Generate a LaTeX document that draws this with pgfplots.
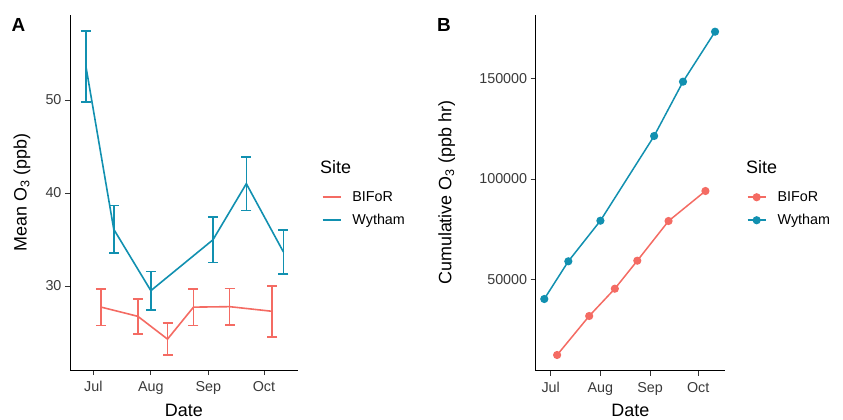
\documentclass[border=0pt]{standalone}
\usepackage{fontspec}
\setmainfont{Liberation Sans}
\usepackage{pgfplots}
\usepackage{pgfplotstable}
\pgfplotsset{compat=1.18}
\definecolor{cbif}{HTML}{F46B63}
\definecolor{cwyt}{HTML}{1190B0}
\definecolor{tickgrey}{HTML}{3A3A3A}

% Panel A: mean O3 with standard error (x = days after 1 July)
\pgfplotstableread{
x y e
4 27.74 1.97
24 26.74 1.87
40 24.29 1.71
54 27.73 1.96
73.5 27.78 1.94
96.5 27.28 2.73
}\bifA
\pgfplotstableread{
x y e
-4 53.6 3.8
11 36.1 2.54
31 29.5 2.08
64.5 34.97 2.46
82.5 41.0 2.9
102.5 33.66 2.37
}\wytA
% Panel B: cumulative O3
\pgfplotstableread{
x y
4 12264
24 31705
40 45314
54 59272
73.5 79062
96.5 94018
}\bifB
\pgfplotstableread{
x y
-4 40180
11 58973
31 79212
64.5 121436
82.5 148505
102.5 173430
}\wytB

\pgfplotsset{
  common/.style={
    scale only axis,
    axis x line*=bottom, axis y line*=left,
    axis line style={black, line width=0.9bp, -},
    tick align=outside, major tick length=5bp,
    tick style={black!80, line width=0.9bp},
    minor tick num=0,
    xtick={0,31,62,92}, xticklabels={Jul,Aug,Sep,Oct},
    ticklabel style={font=\fontsize{14.4}{16}\selectfont, text=tickgrey},
    xticklabel style={yshift=-3bp},
    /pgf/number format/assume math mode=true,
    label style={font=\fontsize{18}{20}\selectfont},
    xlabel=Date,
    xlabel style={at={(axis description cs:0.5,-0.113)}, anchor=center},
    legend cell align=left,
    legend style={draw=none, fill=none, inner sep=0pt, outer sep=0pt,
      font=\fontsize{14.4}{16}\selectfont, column sep=11bp, row sep=0pt,
      nodes={inner xsep=0pt, inner ysep=4.5bp, text height=11bp, text depth=3bp, anchor=west}},
  },
  ebar/.style={#1, line width=1.6bp, mark=none,
    error bars/.cd, y dir=both, y explicit,
    error bar style={line width=1.6bp, #1},
    error mark=|,
    error mark options={mark size=5bp, line width=1.6bp, #1}},
}

\begin{document}
\begin{tikzpicture}
\useasboundingbox (0,0) rectangle (843bp,420bp);

% ---------- Panel A ----------
\begin{axis}[common,
  at={(70bp,50bp)}, anchor=south west,
  width=227.7bp, height=355bp,
  xmin=-12.6, xmax=110.2,
  ymin=20.97, ymax=59.14,
  ytick={30,40,50},
  ylabel={Mean O\textsubscript{3} (ppb)},
  ylabel style={at={(axis description cs:-0.211,0.5)}, anchor=center},
  legend style={at={(axis description cs:1.105,0.519)}, anchor=north west},
  legend image code/.code={\draw[#1, line width=1.8bp] (0bp,0bp) -- (18bp,0bp);},
]
\addplot[ebar=cbif] table[x=x, y=y, y error=e] {\bifA};
\addlegendentry{BIFoR}
\addplot[ebar=cwyt] table[x=x, y=y, y error=e] {\wytA};
\addlegendentry{Wytham}
\end{axis}

% ---------- Panel B ----------
\begin{axis}[common,
  at={(535.7bp,49.3bp)}, anchor=south west,
  width=189.3bp, height=355.7bp,
  xmin=-9.35, xmax=108.7,
  ymin=4437, ymax=181755,
  ytick={50000,100000,150000},
  scaled y ticks=false,
  yticklabel style={/pgf/number format/.cd, fixed, set thousands separator={}},
  ylabel={Cumulative O\textsubscript{3} (ppb hr)},
  ylabel style={at={(axis description cs:-0.470,0.5)}, anchor=center},
  legend style={at={(axis description cs:1.115,0.520)}, anchor=north west},
  legend image code/.code={\draw[#1, line width=1.8bp] (0bp,0bp) -- (18bp,0bp);
     \fill[#1] (9bp,0bp) circle (3.3bp);},
]
\addplot[cbif, line width=1.5bp, mark=*, mark size=3.3bp, mark options={fill=cbif, draw=cbif}]
  table[x=x, y=y] {\bifB};
\addlegendentry{BIFoR}
\addplot[cwyt, line width=1.5bp, mark=*, mark size=3.3bp, mark options={fill=cwyt, draw=cwyt}]
  table[x=x, y=y] {\wytB};
\addlegendentry{Wytham}
\end{axis}

% legend titles and panel tags
\node[anchor=west, font=\fontsize{18}{20}\selectfont, inner sep=0pt] at (320bp,253.3bp) {Site};
\node[anchor=west, font=\fontsize{18}{20}\selectfont, inner sep=0pt] at (746bp,253.3bp) {Site};
\node[font=\fontsize{19}{21}\selectfont\bfseries, inner sep=0pt] at (18.5bp,395bp) {A};
\node[font=\fontsize{19}{21}\selectfont\bfseries, inner sep=0pt] at (444bp,395bp) {B};
\end{tikzpicture}
\end{document}
